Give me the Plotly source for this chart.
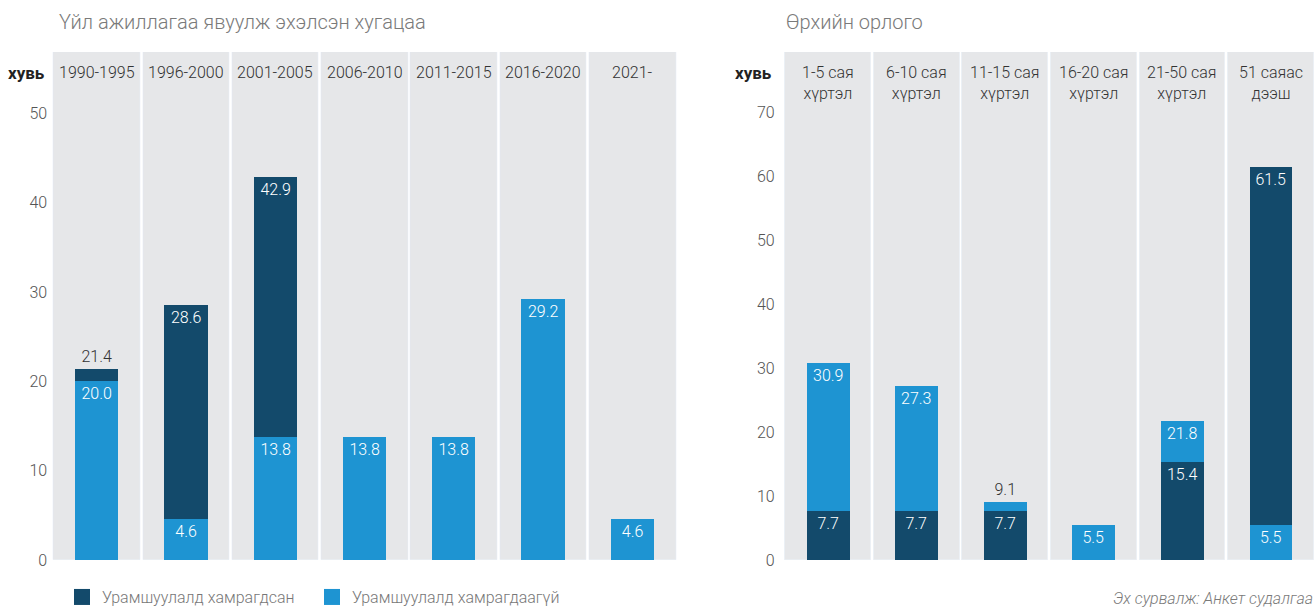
import plotly.graph_objects as go

# --- data -----------------------------------------------------------------
periods = ["1990-1995", "1996-2000", "2001-2005", "2006-2010",
           "2011-2015", "2016-2020", "2021-"]
period_covered = [21.4, 28.6, 42.9, None, None, None, None]
period_not_covered = [20.0, 4.6, 13.8, 13.8, 13.8, 29.2, 4.6]

incomes = ["1-5 сая<br>хүртэл", "6-10 сая<br>хүртэл", "11-15 сая<br>хүртэл",
           "16-20 сая<br>хүртэл", "21-50 сая<br>хүртэл", "51 саяас<br>дээш"]
income_covered = [7.7, 7.7, 7.7, None, 15.4, 61.5]
income_not_covered = [30.9, 27.3, 9.1, 5.5, 21.8, 5.5]

left_ticks = [0, 10, 20, 30, 40, 50]
right_ticks = [0, 10, 20, 30, 40, 50, 60, 70]

# --- style ----------------------------------------------------------------
DARK = '#134a6b'
LIGHT = '#1e94d2'
GRAY = '#e6e7e9'
FONT = 'Roboto Light, Roboto'
LEFT_TOP = 56.9
RIGHT_TOP = 79.5

fig = go.Figure()


def add_panel(fig, cats, covered, not_covered, xaxis, yaxis, top):
    # gray column behind every category
    fig.add_trace(go.Bar(
        x=cats, y=[top] * len(cats), width=0.97, marker_color=GRAY,
        hoverinfo='skip', showlegend=False, xaxis=xaxis, yaxis=yaxis,
    ))
    back, front, back_col, front_col, back_pos = [], [], [], [], []
    for c, n in zip(covered, not_covered):
        vals = [(v, col) for v, col in ((c, DARK), (n, LIGHT)) if v is not None]
        vals.sort(key=lambda t: -t[0])
        back.append(vals[0][0])
        back_col.append(vals[0][1])
        if len(vals) > 1:
            front.append(vals[1][0])
            front_col.append(vals[1][1])
            back_pos.append('outside' if vals[0][0] - vals[1][0] < 3 else 'inside')
        else:
            front.append(None)
            front_col.append(GRAY)
            back_pos.append('inside')
    for y, col, pos in ((back, back_col, back_pos), (front, front_col, 'inside')):
        fig.add_trace(go.Bar(
            x=cats, y=y, width=0.485, marker_color=col, marker_line_width=0,
            texttemplate='%{y:.1f}', textposition=pos, textangle=0,
            constraintext='none',
            insidetextfont=dict(family=FONT, size=16, color='white', weight=300),
            outsidetextfont=dict(family=FONT, size=16, color='#333', weight=300),
            showlegend=False, xaxis=xaxis, yaxis=yaxis,
        ))


add_panel(fig, periods, period_covered, period_not_covered, 'x', 'y', LEFT_TOP)
add_panel(fig, incomes, income_covered, income_not_covered, 'x2', 'y2', RIGHT_TOP)

# legend entries only
for name, col in (("Урамшуулалд хамрагдсан", DARK), ("Урамшуулалд хамрагдаагүй", LIGHT)):
    fig.add_trace(go.Scatter(
        x=[None], y=[None], mode='markers', name=name,
        marker=dict(symbol='square', size=16, color=col),
    ))

annotations = []
for cats, xref in ((periods, 'x'), (incomes, 'x2')):
    for c in cats:
        annotations.append(dict(
            x=c, xref=xref, y=0.899, yref='paper', yanchor='top',
            text=c, showarrow=False,
            font=dict(family=FONT, size=16, color='#333', weight=300),
        ))
annotations += [
    dict(x=57 / 1315, y=0.964, xref='paper', yref='paper', xanchor='left',
         yanchor='middle', text="Үйл ажиллагаа явуулж эхэлсэн хугацаа",
         showarrow=False,
         font=dict(family=FONT, size=20, color='#7a7a7a', weight=300)),
    dict(x=784 / 1315, y=0.964, xref='paper', yref='paper', xanchor='left',
         yanchor='middle', text="Өрхийн орлого", showarrow=False,
         font=dict(family=FONT, size=20, color='#7a7a7a', weight=300)),
    dict(x=47 / 1315, y=0.88, xref='paper', yref='paper', xanchor='right',
         yanchor='middle', text="<b>хувь</b>", showarrow=False,
         font=dict(family='Roboto', size=17, color='#222')),
    dict(x=774 / 1315, y=0.88, xref='paper', yref='paper', xanchor='right',
         yanchor='middle', text="<b>хувь</b>", showarrow=False,
         font=dict(family='Roboto', size=17, color='#222')),
    dict(x=1.0, y=0.016, xref='paper', yref='paper', xanchor='right',
         yanchor='middle', text="<i>Эх сурвалж: Анкет судалгаа</i>",
         showarrow=False,
         font=dict(family=FONT, size=16, color='#7a7a7a', weight=300)),
]

fig.update_layout(
    width=1315, height=608,
    margin=dict(t=0, l=0, r=0, b=0, autoexpand=False),
    plot_bgcolor='white', paper_bgcolor='white',
    barmode='overlay', bargap=0,
    font=dict(family=FONT, size=16, color='#555'),
    xaxis=dict(domain=[0.0397, 0.5149], range=[-0.5, 6.5], showticklabels=False,
               showgrid=False, zeroline=False),
    xaxis2=dict(domain=[0.596, 1.0], range=[-0.5, 5.5], showticklabels=False,
                showgrid=False, zeroline=False, anchor='y2'),
    yaxis=dict(domain=[0.0789, 0.9145], range=[0, LEFT_TOP], tickvals=left_ticks,
               showgrid=False, zeroline=False, ticks='', ticklabelstandoff=4,
               tickfont=dict(family=FONT, size=16, color='#555', weight=300)),
    yaxis2=dict(domain=[0.0789, 0.9145], range=[0, RIGHT_TOP], tickvals=right_ticks,
                showgrid=False, zeroline=False, ticks='', ticklabelstandoff=8,
                anchor='x2',
                tickfont=dict(family=FONT, size=16, color='#555', weight=300)),
    legend=dict(orientation='h', x=62 / 1315, y=0.018, xanchor='left',
                yanchor='middle', entrywidth=205, entrywidthmode='pixels',
                font=dict(family=FONT, size=16, color='#777', weight=300),
                bgcolor='rgba(0,0,0,0)'),
    annotations=annotations,
)

fig.write_html("out.html", config={'displayModeBar': False},
               post_script="document.body.style.margin='0';")
